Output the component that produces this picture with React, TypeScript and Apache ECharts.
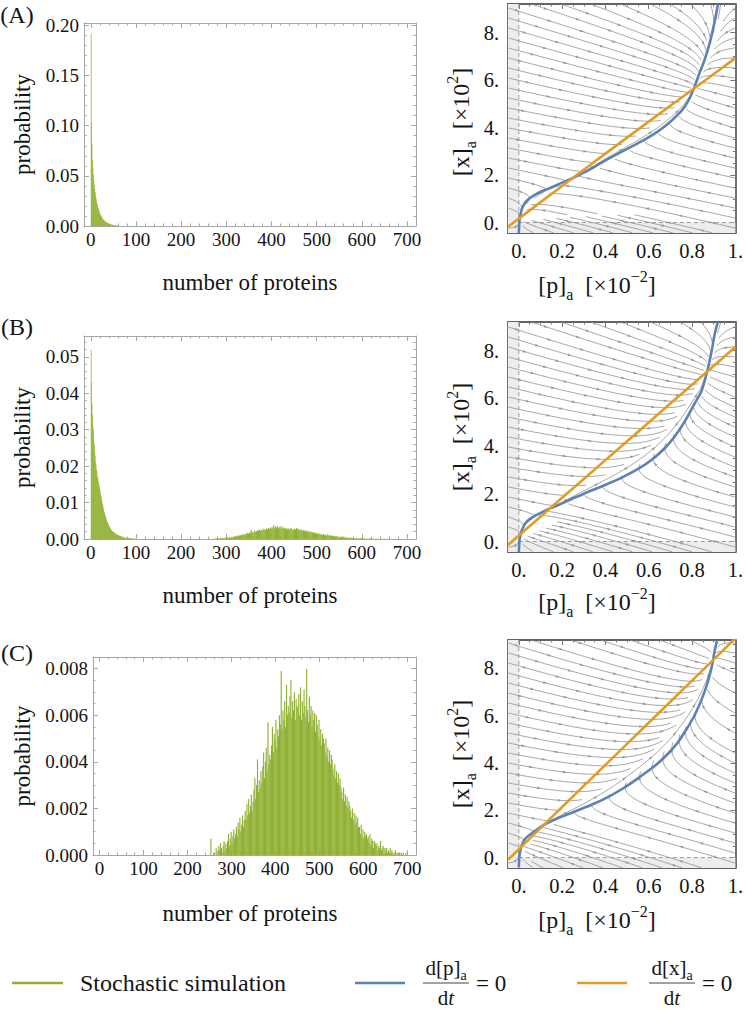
import { useEffect, useRef } from 'react';
import * as echarts from 'echarts';

// ---------------- fonts / colours ----------------
const FONT = "'Liberation Serif', 'DejaVu Serif', serif";
const GREEN = '#8fb032';
const BLUE = '#5e81b5';
const ORANGE = '#e19c24';
const STREAM = '#8e8e8e';
const INK = '#141414';

// ---------------- histogram data (probability per protein count) ----------------
const PROTEIN_RANGE = [-15, 720];
const PROTEIN_TICKS = [0, 100, 200, 300, 400, 500, 600, 700];
const PROTEIN_LABELS = ['0', '100', '200', '300', '400', '500', '600', '700'];

// (A) one-protein bins starting at 0
const A_HIST_START = 0;
const A_HIST_BIN = 1;
const A_HIST = [
  0.192, 0.103, 0.082, 0.066, 0.058, 0.051, 0.046, 0.041, 0.037, 0.034,
  0.031, 0.028, 0.025, 0.023, 0.021, 0.019, 0.0175, 0.016, 0.0145, 0.0132,
  0.012, 0.011, 0.0101, 0.0093, 0.0085, 0.0078, 0.0072, 0.0066, 0.006, 0.0055,
  0.0051, 0.0047, 0.0043, 0.004, 0.0037, 0.0034, 0.0031, 0.0028, 0.0026, 0.0024,
  0.0022, 0.002, 0.0018, 0.0017, 0.0015, 0.0014, 0.0013, 0.0012, 0.0011, 0.001,
  0.0009, 0.0008, 0.0007, 0.0006, 0.0005, 0.0005, 0.0004, 0.0003, 0.0003, 0.0002, 0.0002,
];
const A_PROB_RANGE = [0, 0.2024];
const A_PROB_TICKS = [0, 0.05, 0.1, 0.15, 0.2];
const A_PROB_LABELS = ['0.00', '0.05', '0.10', '0.15', '0.20'];

// (B) low mode, one-protein bins starting at 0
const B_LOW_START = 0;
const B_LOW_BIN = 1;
const B_LOW = [
  0.052, 0.043, 0.037, 0.034, 0.031, 0.03, 0.027, 0.026, 0.024, 0.023,
  0.021, 0.0205, 0.019, 0.0185, 0.017, 0.0168, 0.0158, 0.0152, 0.0145, 0.0138,
  0.0133, 0.0124, 0.0119, 0.0111, 0.0106, 0.0097, 0.0093, 0.0086, 0.0081, 0.0075,
  0.0071, 0.0066, 0.0063, 0.0057, 0.0054, 0.0049, 0.0047, 0.0043, 0.0041, 0.0037,
  0.0036, 0.0032, 0.0031, 0.0028, 0.0027, 0.0024, 0.0023, 0.0021, 0.0021, 0.0019,
  0.0018, 0.0017, 0.0017, 0.0015, 0.0015, 0.0014, 0.0013, 0.0012, 0.0012, 0.0011,
  0.001, 0.001, 0.0009, 0.0009, 0.0008, 0.0008, 0.0007, 0.0007, 0.0006, 0.0006,
  0.0005, 0.0005, 0.0005, 0.0004, 0.0004, 0.0004, 0.0003, 0.0003, 0.0003, 0.0003,
  0.0002, 0.0002, 0.0002, 0.0002, 0.0002, 0.0002, 0.0002, 0.0002, 0.0002, 0.0002,
  0.0001, 0.0001, 0.0001, 0.0001, 0.0001, 0.0001, 0.0001, 0.0001, 0.0001, 0.0001,
];
// (B) high mode, two-protein bins starting at 270, values in units of 1e-4
const B_HIGH_START = 270;
const B_HIGH_BIN = 2;
const B_HIGH_E4 = [
  1, 0, 1, 2, 1, 0, 2, 1, 3, 1,
  2, 3, 1, 4, 2, 3, 5, 2, 4, 3,
  5, 4, 7, 5, 8, 6, 9, 7, 10, 8,
  11, 9, 13, 10, 14, 12, 15, 13, 17, 14,
  18, 16, 25, 17, 20, 18, 23, 19, 21, 24,
  22, 26, 21, 25, 23, 28, 24, 27, 25, 29,
  26, 30, 27, 31, 28, 33, 29, 38, 30, 34,
  31, 35, 29, 33, 30, 36, 28, 32, 29, 31,
  27, 30, 26, 29, 25, 28, 31, 27, 24, 26,
  28, 25, 30, 26, 29, 24, 27, 23, 26, 22,
  25, 21, 24, 20, 23, 19, 22, 18, 21, 17,
  19, 16, 18, 15, 17, 14, 16, 13, 15, 12,
  13, 11, 14, 10, 12, 9, 13, 8, 11, 9,
  10, 8, 9, 7, 9, 6, 8, 6, 7, 5,
  6, 5, 7, 4, 5, 3, 6, 4, 3, 4,
  3, 4, 2, 3, 2, 3, 1, 2, 3, 1,
  2, 1, 2, 1, 3, 1, 1, 2, 1, 0,
  1, 1, 0, 2, 1, 0, 1, 1, 0, 1,
  0, 1, 1, 0, 0, 1, 0, 1, 0, 0,
  1, 0, 0, 1, 0, 0, 1, 0, 0, 0,
];
const B_PROB_RANGE = [0, 0.0557];
const B_PROB_TICKS = [0, 0.01, 0.02, 0.03, 0.04, 0.05];
const B_PROB_LABELS = ['0.00', '0.01', '0.02', '0.03', '0.04', '0.05'];

// (C) two-protein bins starting at 250, values in units of 1e-4
const C_HIST_START = 250;
const C_HIST_BIN = 2;
const C_HIST_E4 = [
  0, 7, 0, 0, 1, 0, 0, 3, 0, 2,
  4, 2, 5, 3, 0, 4, 6, 2, 5, 3,
  6, 9, 4, 7, 10, 5, 8, 11, 7, 9,
  12, 8, 14, 11, 16, 10, 13, 17, 12, 15,
  19, 15, 22, 17, 24, 18, 21, 26, 19, 23,
  28, 33, 24, 30, 41, 27, 32, 29, 36, 31,
  38, 44, 33, 40, 46, 36, 57, 39, 43, 41,
  47, 55, 44, 52, 49, 58, 46, 54, 51, 60,
  56, 79, 54, 62, 58, 66, 55, 73, 60, 64,
  61, 68, 75, 59, 66, 62, 70, 58, 67, 64,
  63, 69, 60, 72, 58, 66, 61, 71, 64, 59,
  80, 62, 57, 68, 60, 64, 55, 62, 58, 61,
  53, 60, 56, 51, 58, 49, 54, 47, 52, 50,
  48, 44, 50, 42, 46, 40, 45, 39, 43, 41,
  37, 34, 39, 33, 36, 31, 35, 30, 33, 29,
  27, 24, 29, 23, 26, 21, 25, 20, 23, 21,
  19, 16, 20, 15, 18, 13, 17, 14, 16, 12,
  12, 9, 13, 8, 11, 7, 10, 8, 9, 7,
  8, 5, 9, 4, 7, 6, 3, 6, 5, 4,
  5, 2, 4, 3, 6, 2, 3, 4, 1, 3,
  2, 3, 1, 2, 0, 3, 1, 2, 1, 0,
  1, 2, 0, 1, 0, 1, 1, 0, 1, 0,
  1, 0, 0, 1, 0,
];
const C_PROB_RANGE = [0, 0.0085];
const C_PROB_TICKS = [0, 0.002, 0.004, 0.006, 0.008];
const C_PROB_LABELS = ['0.000', '0.002', '0.004', '0.006', '0.008'];
const E4 = 1e-4;

// ---------------- phase-plane data ([p]_a ×10^-2, [x]_a ×10^2) ----------------
const P_RANGE = [-0.05, 1.0];
const X_RANGE = [-0.44, 9.2];
const P_TICKS = [0, 0.2, 0.4, 0.6, 0.8, 1];
const P_LABELS = ['0.', '0.2', '0.4', '0.6', '0.8', '1.'];
const X_TICKS = [0, 2, 4, 6, 8];
const X_LABELS = ['0.', '2.', '4.', '6.', '8.'];

// d[p]/dt = 0 nullclines (blue), points [p, x]
const A_BLUE = [
  [0, -0.44], [0.003, 0.1], [0.008, 0.35], [0.015, 0.6], [0.03, 0.85], [0.05, 1.02],
  [0.08, 1.2], [0.142, 1.45], [0.2, 1.68], [0.256, 1.9], [0.3, 2.1], [0.355, 2.38],
  [0.4, 2.62], [0.447, 2.85], [0.5, 3.1], [0.553, 3.35], [0.62, 3.7], [0.675, 4.05],
  [0.73, 4.5], [0.767, 4.89], [0.795, 5.35], [0.815, 5.8], [0.835, 6.3], [0.858, 6.85],
  [0.88, 7.5], [0.896, 8.1], [0.91, 8.7], [0.92, 9.2],
];
const B_BLUE = [
  [0, -0.46], [0.003, 0.05], [0.008, 0.28], [0.015, 0.5], [0.03, 0.76], [0.05, 0.94],
  [0.09, 1.15], [0.142, 1.38], [0.2, 1.6], [0.248, 1.8], [0.3, 2.0], [0.401, 2.38],
  [0.48, 2.7], [0.553, 3.05], [0.62, 3.47], [0.675, 3.92], [0.72, 4.4], [0.767, 5.04],
  [0.81, 5.75], [0.843, 6.29], [0.862, 6.85], [0.877, 7.4], [0.892, 8.05], [0.904, 8.66],
  [0.919, 9.2],
];
const C_BLUE = [
  [0, -0.42], [0.003, 0.1], [0.008, 0.33], [0.012, 0.49], [0.03, 0.8], [0.065, 1.06],
  [0.11, 1.35], [0.172, 1.63], [0.25, 1.92], [0.325, 2.19], [0.4, 2.5], [0.477, 2.9],
  [0.55, 3.35], [0.63, 3.89], [0.69, 4.4], [0.736, 4.89], [0.776, 5.45], [0.812, 6.02],
  [0.845, 6.7], [0.873, 7.43], [0.892, 8.1], [0.904, 8.71], [0.916, 9.2],
];
// d[x]/dt = 0 nullclines (orange), points [p, x]
const A_ORANGE = [[-0.05, -0.18], [0.2, 1.54], [0.4, 2.9], [0.6, 4.25], [0.8, 5.58], [1.0, 6.92]];
const B_ORANGE = [[-0.05, -0.15], [0.2, 1.83], [0.4, 3.41], [0.6, 4.99], [0.8, 6.57], [1.0, 8.15]];
const C_ORANGE = [[-0.05, -0.09], [0.2, 2.14], [0.4, 3.92], [0.6, 5.7], [0.8, 7.48], [1.0, 9.27]];

// relaxation rates towards each nullcline used for the stream field
const K_P = 1.0;
const K_X = 0.3;

// ---------------- layout ----------------
const HIST_GRIDS = [
  { left: 84, top: 23, width: 332, height: 203 },
  { left: 84, top: 336, width: 332, height: 203 },
  { left: 93, top: 657, width: 323, height: 198 },
];
const PHASE_GRIDS = [
  { left: 508, top: 4, width: 230, height: 229 },
  { left: 508, top: 322, width: 230, height: 230 },
  { left: 508, top: 640, width: 230, height: 228 },
];

// ---------------- helpers ----------------
function bins(start: number, w: number, vals: number[], scale: number) {
  const out: number[][] = [];
  vals.forEach((v, i) => {
    if (v > 0) out.push([start + i * w, start + (i + 1) * w, v * scale]);
  });
  return out;
}

function minors(min: number, max: number, step: number, majors: number[]) {
  const out: number[] = [];
  const n0 = Math.ceil(min / step - 1e-9);
  const n1 = Math.floor(max / step + 1e-9);
  for (let k = n0; k <= n1; k++) {
    const v = +(k * step).toFixed(10);
    if (!majors.some((m) => Math.abs(m - v) < step * 1e-6)) out.push(v);
  }
  return out;
}

function lerpTable(tbl: number[][], ki: number, vi: number, k: number, extrap: boolean) {
  const n = tbl.length;
  let a = 0;
  let b = 1;
  if (k <= tbl[0][ki]) {
    if (!extrap) return tbl[0][vi];
  } else if (k >= tbl[n - 1][ki]) {
    if (!extrap) return tbl[n - 1][vi];
    a = n - 2;
    b = n - 1;
  } else {
    for (let i = 0; i < n - 1; i++) {
      if (k >= tbl[i][ki] && k <= tbl[i + 1][ki]) {
        a = i;
        b = i + 1;
        break;
      }
    }
  }
  const t = (k - tbl[a][ki]) / (tbl[b][ki] - tbl[a][ki]);
  return tbl[a][vi] + t * (tbl[b][vi] - tbl[a][vi]);
}

// evenly spaced streamlines of the field relaxing towards both nullclines
function streamlines(blue: number[][], orange: number[][], W: number, H: number) {
  const sx = W / (P_RANGE[1] - P_RANGE[0]);
  const sy = H / (X_RANGE[1] - X_RANGE[0]);
  const vel = (X: number, Y: number) => {
    const p = P_RANGE[0] + X / sx;
    const x = X_RANGE[0] + Y / sy;
    const u = K_P * (lerpTable(blue, 1, 0, x, false) - p) * sx;
    const v = K_X * (lerpTable(orange, 0, 1, p, true) - x) * sy;
    return [u, v];
  };
  const dSep = 10;
  const dTest = 4.2;
  const h = 1;
  const cells = new Map<string, number[][]>();
  const addPt = (X: number, Y: number, id: number) => {
    const k = Math.floor(X / dSep) + ',' + Math.floor(Y / dSep);
    const arr = cells.get(k) || [];
    arr.push([X, Y, id]);
    cells.set(k, arr);
  };
  const tooClose = (X: number, Y: number, d: number, id: number) => {
    const ci = Math.floor(X / dSep);
    const cj = Math.floor(Y / dSep);
    for (let di = -1; di <= 1; di++) {
      for (let dj = -1; dj <= 1; dj++) {
        const arr = cells.get(ci + di + ',' + (cj + dj));
        if (!arr) continue;
        for (const q of arr) {
          if (q[2] !== id && (q[0] - X) ** 2 + (q[1] - Y) ** 2 < d * d) return true;
        }
      }
    }
    return false;
  };
  const trace = (X0: number, Y0: number, dir: number, id: number) => {
    const pts: number[][] = [];
    let X = X0;
    let Y = Y0;
    let pu = 0;
    let pv = 0;
    for (let k = 0; k < 1500; k++) {
      const [u, v] = vel(X, Y);
      const m = Math.hypot(u, v);
      if (m < 0.8) break;
      const [u2, v2] = vel(X + (dir * u / m) * h * 0.5, Y + (dir * v / m) * h * 0.5);
      const m2 = Math.hypot(u2, v2);
      if (m2 < 0.8) break;
      const ux = (dir * u2) / m2;
      const uy = (dir * v2) / m2;
      if (k > 0 && ux * pu + uy * pv < 0.5) break;
      X += ux * h;
      Y += uy * h;
      pu = ux;
      pv = uy;
      if (X < 0 || X > W || Y < 0 || Y > H) break;
      if (tooClose(X, Y, dTest, id)) break;
      pts.push([X, Y]);
    }
    return pts;
  };
  const seeds: number[][] = [];
  for (let Y = dSep / 2; Y < H; Y += dSep) seeds.push([0.5, Y]);
  for (let Y = dSep / 2; Y < H; Y += dSep) seeds.push([W - 0.5, Y]);
  for (let X = dSep / 2; X < W; X += dSep) seeds.push([X, H - 0.5]);
  for (let X = dSep / 2; X < W; X += dSep) seeds.push([X, 0.5]);
  for (let Y = dSep / 3; Y < H; Y += dSep / 1.5) for (let X = dSep / 3; X < W; X += dSep / 1.5) seeds.push([X, Y]);
  const lines: number[][][] = [];
  seeds.forEach(([X, Y]) => {
    const id = lines.length;
    if (tooClose(X, Y, dSep * 0.9, -1)) return;
    const fwd = trace(X, Y, 1, id);
    const bwd = trace(X, Y, -1, id);
    const all = [...bwd.reverse(), [X, Y], ...fwd];
    if (all.length < 12) return;
    all.forEach((q) => addPt(q[0], q[1], id));
    const dec = all.filter((_, i) => i % 2 === 0 || i === all.length - 1);
    lines.push(dec.map(([a, b]) => [P_RANGE[0] + a / sx, X_RANGE[0] + b / sy]));
  });
  return lines;
}

function arrowsAlong(pts: number[][], start: number, gap: number) {
  const out: any[] = [];
  let total = 0;
  for (let i = 1; i < pts.length; i++) total += Math.hypot(pts[i][0] - pts[i - 1][0], pts[i][1] - pts[i - 1][1]);
  let acc = 0;
  let next = start;
  for (let i = 1; i < pts.length; i++) {
    const dx = pts[i][0] - pts[i - 1][0];
    const dy = pts[i][1] - pts[i - 1][1];
    const L = Math.hypot(dx, dy);
    if (L === 0) continue;
    while (acc + L >= next && next < total - 5) {
      const t = (next - acc) / L;
      const x = pts[i - 1][0] + dx * t;
      const y = pts[i - 1][1] + dy * t;
      const ux = dx / L;
      const uy = dy / L;
      out.push({
        type: 'polygon',
        silent: true,
        shape: {
          points: [
            [x + ux * 2.0, y + uy * 2.0],
            [x - ux * 2.0 - uy * 1.3, y - uy * 2.0 + ux * 1.3],
            [x - ux * 2.0 + uy * 1.3, y - uy * 2.0 - ux * 1.3],
          ],
        },
        style: { fill: '#9a9a9a' },
      });
      next += gap;
    }
    acc += L;
  }
  return out;
}

function buildOption() {
  const xAxes: any[] = [];
  const yAxes: any[] = [];
  const series: any[] = [];
  const grids = [...HIST_GRIDS, ...PHASE_GRIDS].map((g) => ({ ...g, containLabel: false }));

  const fmt = (ticks: number[], labels: string[]) => (v: number) => {
    const i = ticks.findIndex((t) => Math.abs(t - v) < 1e-9 * Math.max(1, Math.abs(t)));
    return i >= 0 ? labels[i] : '';
  };

  const frame = (
    gi: number, xr: number[], yr: number[],
    xMaj: number[], xLab: string[], xMinStep: number,
    yMaj: number[], yLab: string[], yMinStep: number, st: any,
  ) => {
    const lineStyle = { color: st.frame, width: st.frameW };
    const tickStyle = { color: st.tick, width: 1 };
    const xMin = minors(xr[0], xr[1], xMinStep, xMaj);
    const yMin = minors(yr[0], yr[1], yMinStep, yMaj);
    const base = { gridIndex: gi, type: 'value', splitLine: { show: false }, minorTick: { show: false }, minorSplitLine: { show: false } };
    const xb = { ...base, min: xr[0], max: xr[1] };
    const yb = { ...base, min: yr[0], max: yr[1] };
    const xi = xAxes.length;
    xAxes.push({
      ...xb, position: 'bottom',
      axisLine: { show: true, onZero: false, lineStyle },
      axisTick: { show: true, inside: true, length: st.majLen, customValues: xMaj, lineStyle: tickStyle },
      axisLabel: { show: true, customValues: xMaj, formatter: fmt(xMaj, xLab), margin: st.xMargin, fontFamily: FONT, fontSize: st.fs, color: INK, showMinLabel: true, showMaxLabel: true },
    });
    xAxes.push({ ...xb, position: 'bottom', axisLine: { show: false, onZero: false }, axisTick: { show: true, inside: true, length: st.minLen, customValues: xMin, lineStyle: tickStyle }, axisLabel: { show: false } });
    xAxes.push({ ...xb, position: 'top', axisLine: { show: true, onZero: false, lineStyle }, axisTick: { show: true, inside: true, length: st.majLen, customValues: xMaj, lineStyle: tickStyle }, axisLabel: { show: false } });
    xAxes.push({ ...xb, position: 'top', axisLine: { show: false, onZero: false }, axisTick: { show: true, inside: true, length: st.minLen, customValues: xMin, lineStyle: tickStyle }, axisLabel: { show: false } });
    const yi = yAxes.length;
    yAxes.push({
      ...yb, position: 'left',
      axisLine: { show: true, onZero: false, lineStyle },
      axisTick: { show: true, inside: true, length: st.majLen, customValues: yMaj, lineStyle: tickStyle },
      axisLabel: { show: true, customValues: yMaj, formatter: fmt(yMaj, yLab), margin: st.yMargin, fontFamily: FONT, fontSize: st.fs, color: INK, showMinLabel: true, showMaxLabel: true },
    });
    yAxes.push({ ...yb, position: 'left', axisLine: { show: false, onZero: false }, axisTick: { show: true, inside: true, length: st.minLen, customValues: yMin, lineStyle: tickStyle }, axisLabel: { show: false } });
    yAxes.push({ ...yb, position: 'right', axisLine: { show: true, onZero: false, lineStyle }, axisTick: { show: true, inside: true, length: st.majLen, customValues: yMaj, lineStyle: tickStyle }, axisLabel: { show: false } });
    yAxes.push({ ...yb, position: 'right', axisLine: { show: false, onZero: false }, axisTick: { show: true, inside: true, length: st.minLen, customValues: yMin, lineStyle: tickStyle }, axisLabel: { show: false } });
    return [xi, yi];
  };

  const histStyle = { frame: '#a6a6a6', frameW: 1, tick: '#a6a6a6', majLen: 5, minLen: 2.5, fs: 19, xMargin: 4, yMargin: 5 };
  const phaseStyle = { frame: '#636363', frameW: 1.8, tick: '#777777', majLen: 5, minLen: 2.5, fs: 20.5, xMargin: 7, yMargin: 9 };

  const hists = [
    { bars: bins(A_HIST_START, A_HIST_BIN, A_HIST, 1), yr: A_PROB_RANGE, yt: A_PROB_TICKS, yl: A_PROB_LABELS, ym: 0.01 },
    { bars: [...bins(B_LOW_START, B_LOW_BIN, B_LOW, 1), ...bins(B_HIGH_START, B_HIGH_BIN, B_HIGH_E4, E4)], yr: B_PROB_RANGE, yt: B_PROB_TICKS, yl: B_PROB_LABELS, ym: 0.002 },
    { bars: bins(C_HIST_START, C_HIST_BIN, C_HIST_E4, E4), yr: C_PROB_RANGE, yt: C_PROB_TICKS, yl: C_PROB_LABELS, ym: 0.0005 },
  ];
  hists.forEach((h, i) => {
    const [xi, yi] = frame(i, PROTEIN_RANGE, h.yr, PROTEIN_TICKS, PROTEIN_LABELS, 20, h.yt, h.yl, h.ym, histStyle);
    series.push({
      type: 'custom', xAxisIndex: xi, yAxisIndex: yi, silent: true, z: 2,
      data: h.bars,
      renderItem: (_p: any, api: any) => {
        const a = api.coord([api.value(0), api.value(2)]);
        const b = api.coord([api.value(1), 0]);
        return { type: 'rect', shape: { x: a[0], y: a[1], width: Math.max(b[0] - a[0], 0.3) + 0.25, height: b[1] - a[1] }, style: { fill: GREEN } };
      },
    });
  });

  const phases = [
    { blue: A_BLUE, orange: A_ORANGE },
    { blue: B_BLUE, orange: B_ORANGE },
    { blue: C_BLUE, orange: C_ORANGE },
  ];
  phases.forEach((ph, i) => {
    const gi = 3 + i;
    const [xi, yi] = frame(gi, P_RANGE, X_RANGE, P_TICKS, P_LABELS, 0.05, X_TICKS, X_LABELS, 0.5, phaseStyle);
    // shaded negative region and dashed zero lines
    series.push({
      type: 'custom', xAxisIndex: xi, yAxisIndex: yi, silent: true, z: 1,
      data: [[0, 0]],
      renderItem: (_p: any, api: any) => {
        const tl = api.coord([P_RANGE[0], X_RANGE[1]]);
        const o = api.coord([0, 0]);
        const br = api.coord([P_RANGE[1], X_RANGE[0]]);
        const shade = '#ededed';
        const dash = { stroke: '#9a9a9a', lineWidth: 1, lineDash: [4, 3] };
        return {
          type: 'group',
          children: [
            { type: 'rect', shape: { x: tl[0], y: tl[1], width: o[0] - tl[0], height: br[1] - tl[1] }, style: { fill: shade } },
            { type: 'rect', shape: { x: o[0], y: o[1], width: br[0] - o[0], height: br[1] - o[1] }, style: { fill: shade } },
            { type: 'line', shape: { x1: o[0], y1: tl[1], x2: o[0], y2: o[1] }, style: dash },
            { type: 'line', shape: { x1: o[0], y1: o[1], x2: br[0], y2: o[1] }, style: dash },
          ],
        };
      },
    });
    const g = PHASE_GRIDS[i];
    const lines = streamlines(ph.blue, ph.orange, g.width, g.height);
    series.push({
      type: 'custom', xAxisIndex: xi, yAxisIndex: yi, silent: true, z: 2,
      data: lines.map((l) => [l[0][0], l[0][1]]),
      renderItem: (params: any, api: any) => {
        const l = lines[params.dataIndex];
        const pts = l.map((q) => api.coord(q));
        const off = 8 + ((params.dataIndex * 13) % 34);
        return {
          type: 'group',
          children: [
            { type: 'polyline', shape: { points: pts }, style: { stroke: STREAM, lineWidth: 0.8, fill: null } },
            ...arrowsAlong(pts, off, 34),
          ],
        };
      },
    });
    series.push({
      type: 'line', xAxisIndex: xi, yAxisIndex: yi, data: ph.blue, showSymbol: false, silent: true, z: 3,
      smooth: 0.3, lineStyle: { color: BLUE, width: 2.6 }, itemStyle: { color: BLUE },
    });
    series.push({
      type: 'line', xAxisIndex: xi, yAxisIndex: yi, data: ph.orange, showSymbol: false, silent: true, z: 4,
      smooth: 0.3, lineStyle: { color: ORANGE, width: 2.6 }, itemStyle: { color: ORANGE },
    });
  });

  // ---------- texts ----------
  const txt = (x: number, y: number, text: string, fs: number, extra: any = {}) => ({
    type: 'text', x, y, rotation: extra.rot || 0, silent: true,
    style: { text, fontFamily: FONT, fontSize: fs, fill: INK, align: extra.align || 'center', verticalAlign: 'middle', rich: extra.rich },
  });
  const richTitle = {
    m: { fontFamily: FONT, fontSize: 24, lineHeight: 34, verticalAlign: 'middle', fill: INK, color: INK },
    s: { fontFamily: FONT, fontSize: 16, lineHeight: 16, verticalAlign: 'bottom', fill: INK, color: INK },
    u: { fontFamily: FONT, fontSize: 16, lineHeight: 16, verticalAlign: 'top', fill: INK, color: INK },
  };
  const richLeg = {
    m: { fontFamily: FONT, fontSize: 21, lineHeight: 28, verticalAlign: 'middle', fill: INK, color: INK },
    s: { fontFamily: FONT, fontSize: 14, lineHeight: 14, verticalAlign: 'bottom', fill: INK, color: INK },
    i: { fontFamily: FONT, fontSize: 21, lineHeight: 28, verticalAlign: 'middle', fontStyle: 'italic', fill: INK, color: INK },
  };
  const graphic: any[] = [];
  const panelY = [15, 327, 653];
  const probY = [124.5, 437.5, 756];
  const numY = [282, 595, 913];
  const phYT = [122, 437, 754];
  const phXT = [285, 602, 920];
  ['(A)', '(B)', '(C)'].forEach((s, i) => {
    graphic.push(txt(17, panelY[i], s, 24));
    graphic.push(txt(22, probY[i], 'probability', 23, { rot: Math.PI / 2 }));
    graphic.push(txt(250, numY[i], 'number of proteins', 23));
    graphic.push(txt(461, phYT[i], '{m|[x]}{s|a}{m|  [×10}{u|2}{m|]}', 24, { rot: Math.PI / 2, rich: richTitle }));
    graphic.push(txt(597, phXT[i], '{m|[p]}{s|a}{m|  [×10}{u|−2}{m|]}', 24, { rich: richTitle }));
  });
  // legend
  const LY = 983;
  graphic.push({ type: 'line', silent: true, shape: { x1: 12, y1: LY, x2: 63, y2: LY }, style: { stroke: GREEN, lineWidth: 2.6 } });
  graphic.push(txt(80, LY, 'Stochastic simulation', 24, { align: 'left' }));
  const frac = (lx: number, color: string, num: string, cx: number) => {
    graphic.push({ type: 'line', silent: true, shape: { x1: lx, y1: LY, x2: lx + 50, y2: LY }, style: { stroke: color, lineWidth: 2.6 } });
    graphic.push(txt(cx, LY - 15, num, 21, { rich: richLeg }));
    graphic.push({ type: 'line', silent: true, shape: { x1: cx - 23, y1: LY, x2: cx + 23, y2: LY }, style: { stroke: INK, lineWidth: 0.8 } });
    graphic.push(txt(cx, LY + 15, '{m|d}{i|t}', 21, { rich: richLeg }));
    graphic.push(txt(cx + 30, LY, '= 0', 23, { align: 'left' }));
  };
  frac(355, BLUE, '{m|d[p]}{s|a}', 446);
  frac(577, ORANGE, '{m|d[x]}{s|a}', 672);

  return { animation: false, grid: grids, xAxis: xAxes, yAxis: yAxes, series, graphic };
}

export default function App() {
  const ref = useRef<HTMLDivElement>(null);
  useEffect(() => {
    document.body.style.margin = '0';
    const chart = echarts.init(ref.current as HTMLDivElement, undefined, { renderer: 'svg' });
    chart.setOption(buildOption() as any);
    return () => chart.dispose();
  }, []);
  return <div ref={ref} style={{ width: 746, height: 1009, background: '#fff' }} />;
}
